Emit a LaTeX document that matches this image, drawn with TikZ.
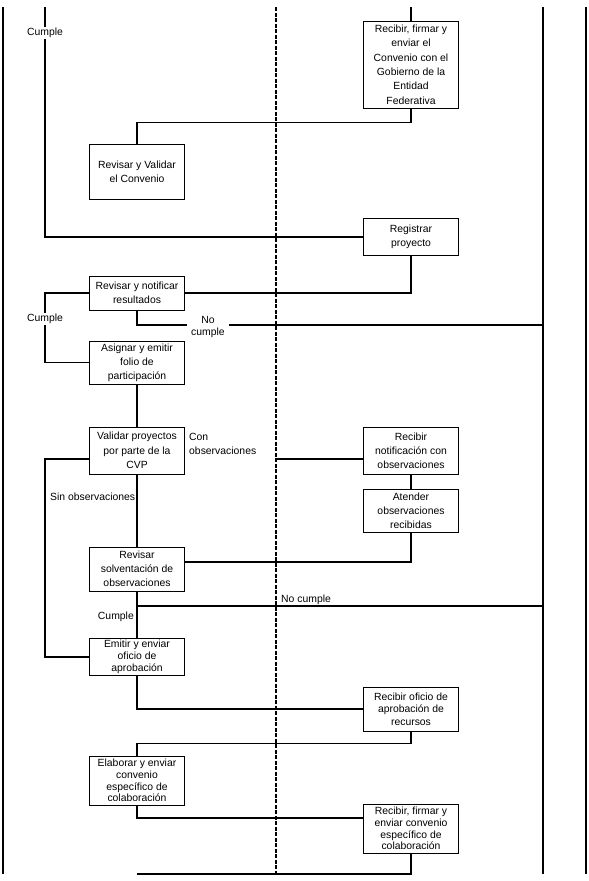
\documentclass[tikz,border=0pt]{standalone}
\usepackage{fontspec}
\setmainfont{Liberation Sans}

\tikzstyle{act} = [draw, line width=0.8pt, align=center, inner sep=0mm, minimum width=95pt]
\tikzstyle{lbl} = [inner sep=1pt, fill=white, align=center, font=\fontsize{10.4}{12}\selectfont]
\tikzstyle{flow} = [line width=1.4pt]

\begin{document}
\begin{tikzpicture}[x=1pt, y=-1pt]
		\useasboundingbox (0,0) rectangle (589,881);
		% lanes
		\foreach \x/\w in {3/2, 543/1.3, 586/1.3}
		\draw[line width=\w pt] (\x,7) -- (\x,874);
		\draw[line width=1.6pt, dash pattern=on 4pt off 1.5pt] (276,7) -- (276,874);
		% left column
		\foreach \y/\h/\b/\n/\l in {171.5/55/14/valconv/{Revisar y Validar\\el Convenio},
			293/34/14/notif/{Revisar y notificar\\resultados},
			362.5/43/14/folio/{Asignar y emitir\\folio de\\participación},
			450.5/47/14.4/cvp/{Validar proyectos\\por parte de la\\CVP},
			569/44/14/solv/{Revisar\\solventación de\\observaciones},
			657/37/11.7/emitir/{Emitir y enviar\\oficio de\\aprobación},
			780.5/49/11.7/elab/{Elaborar y enviar\\convenio\\específico de\\colaboración}} {
			\node[act, minimum height=\h pt, font=\fontsize{10.4}{\b}\selectfont] (\n) at (137,\y) {\l};
		}
		% right column
		\foreach \y/\h/\b/\n/\l in {64.5/87/14.4/conv/{Recibir, firmar y\\enviar el\\Convenio con el\\Gobierno de la\\Entidad\\Federativa},
			237/37/14/reg/{Registrar\\proyecto},
			450.5/47/14/recobs/{Recibir\\notificación con\\observaciones},
			510.5/43/14/atender/{Atender\\observaciones\\recibidas},
			709/44/12.3/ofi/{Recibir oficio de\\aprobación de\\recursos},
			828.5/49/11.7/firm/{Recibir, firmar y\\enviar convenio\\específico de\\colaboración}} {
			\node[act, minimum height=\h pt, font=\fontsize{10.4}{\b}\selectfont] (\n) at (411,\y) {\l};
		}
		% free ends
		\coordinate (intop) at (411,7);
		\coordinate (cumtop) at (45,7);
		\coordinate (nc1) at (543,325);
		\coordinate (co) at (276,459);
		\coordinate (nc2) at (543,606);
		\coordinate (outbot) at (137,874);
		% flow
		\draw[flow] (intop) -- (conv);
		\draw[flow] (conv.south) -- ++(0,14) -| (valconv.north);
		\draw[flow] (cumtop) |- (reg.west);
		\draw[flow] (reg.south) |- (notif.east);
		\draw[flow] (notif.west) -- ++(-44,0) |- (folio.west);
		\draw[flow] (notif.south) |- (nc1);
		\draw[flow] (folio) -- (cvp);
		\draw[flow] ([yshift=-8.5pt]cvp.west) -- ++(-44,0) |- (emitir.west);
		\draw[flow] (co) -- ([yshift=-8.5pt]recobs.west);
		\draw[flow] (cvp) -- (solv);
		\draw[flow] (recobs) -- (atender);
		\draw[flow] (atender.south) |- ([yshift=7pt]solv.east);
		\draw[flow] (solv.south) |- (nc2);
		\draw[flow] (solv) -- (emitir);
		\draw[flow] (emitir.south) |- (ofi.west);
		\draw[flow] (ofi.south) -- ++(0,12) -| (elab.north);
		\draw[flow] (elab.south) |- ([yshift=10.5pt]firm.west);
		\draw[flow] (firm.south) |- (outbot);
		% labels
		\node[lbl] (c1) at (45,33) {Cumple};
		\node[lbl] (c2) at (45,319) {Cumple};
		\node[lbl, inner xsep=4pt] (nc1l) at (208,327) {No\\cumple};
		\node[lbl, anchor=west, align=left, fill=none, font=\fontsize{10.4}{14}\selectfont] (col) at (188,444) {Con\\observaciones};
		\node[lbl, anchor=west, fill=none] (sol) at (49,497) {Sin observaciones};
		\node[lbl, anchor=west, fill=none] (nc2l) at (280,600) {No cumple};
		\node[lbl, anchor=east] (c3) at (135,617) {Cumple};
	\end{tikzpicture}
\end{document}
